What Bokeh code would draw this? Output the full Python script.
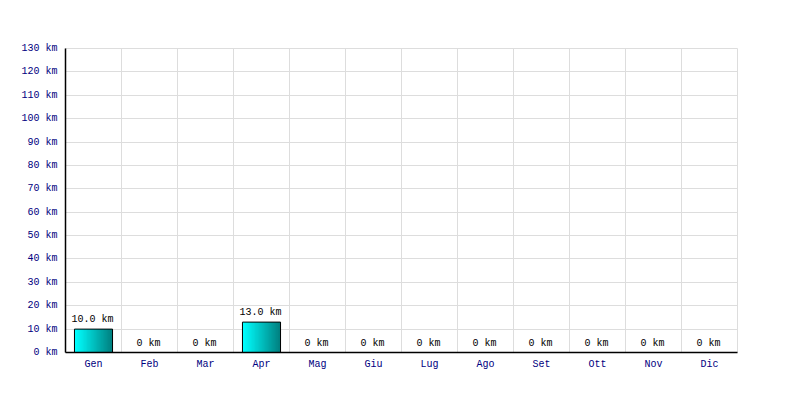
from bokeh.plotting import figure
from bokeh.models import ColumnDataSource, FixedTicker, Range1d, LabelSet
from bokeh.core.properties import value
from bokeh.embed import file_html
from bokeh.resources import INLINE

months = ["Gen", "Feb", "Mar", "Apr", "Mag", "Giu", "Lug", "Ago", "Set", "Ott", "Nov", "Dic"]
km = [10.0, 0, 0, 13.0, 0, 0, 0, 0, 0, 0, 0, 0]
y_ticks = list(range(0, 131, 10))

FONT = "Liberation Mono"
BAR_W = 0.68
N_STRIPS = 30

p = figure(width=784, height=384, frame_width=672, frame_height=304,
           x_range=Range1d(0, 12), y_range=Range1d(0, 130),
           output_backend="svg", toolbar_location=None,
           min_border_left=65, min_border_right=47, min_border_top=48, min_border_bottom=32)

def lerp(a, b, t):
    return int(round(a + (b - a) * t))

xs, ws, tops, cols = [], [], [], []
for i, v in enumerate(km):
    if v <= 0:
        continue
    c = i + 0.5
    left, right = c - BAR_W / 2, c + BAR_W / 2
    sw = BAR_W / N_STRIPS
    for k in range(N_STRIPS):
        t = k / (N_STRIPS - 1)
        s = left + k * sw
        xs.append((s + right) / 2)
        ws.append(right - s)
        tops.append(v)
        cols.append("#%02x%02x%02x" % (0, lerp(255, 128, t), lerp(255, 128, t)))
p.vbar(x=xs, width=ws, top=tops, bottom=0, fill_color=cols, line_color=None)

centers = [i + 0.5 for i in range(len(months))]
outline = ColumnDataSource(dict(x=[c for c, v in zip(centers, km) if v > 0],
                                top=[v for v in km if v > 0]))
p.vbar(x="x", width=BAR_W, top="top", bottom=0, source=outline,
       fill_color=None, line_color="black", line_width=1)

labels = ColumnDataSource(dict(x=centers, y=km,
                               t=[("%.1f km" % v) if v > 0 else "0 km" for v in km]))
p.add_layout(LabelSet(x="x", y="y", text="t", source=labels, text_align="center",
                      text_baseline="bottom", y_offset=4, x_offset=-1, text_font=value(FONT),
                      text_font_size="10px", text_color="black"))

p.xaxis.ticker = FixedTicker(ticks=centers)
p.xaxis.major_label_overrides = {c: m for c, m in zip(centers, months)}
p.yaxis.ticker = FixedTicker(ticks=y_ticks)
p.yaxis.major_label_overrides = {t: "%d km" % t for t in y_ticks}
for ax in (p.xaxis[0], p.yaxis[0]):
    ax.major_tick_line_color = None
    ax.minor_tick_line_color = None
    ax.axis_line_color = "black"
    ax.axis_line_width = 1.5
    ax.major_label_text_font = FONT
    ax.major_label_text_font_size = "10px"
    ax.major_label_text_color = "#000080"
p.xaxis[0].major_label_standoff = 0
p.yaxis[0].major_label_standoff = 2

p.xgrid.ticker = FixedTicker(ticks=list(range(0, 13)))
p.ygrid.ticker = FixedTicker(ticks=y_ticks)
p.xgrid.grid_line_color = "#dddddd"
p.ygrid.grid_line_color = "#dddddd"
p.outline_line_color = "#dddddd"

open("out.html", "w").write(file_html(p, INLINE))
